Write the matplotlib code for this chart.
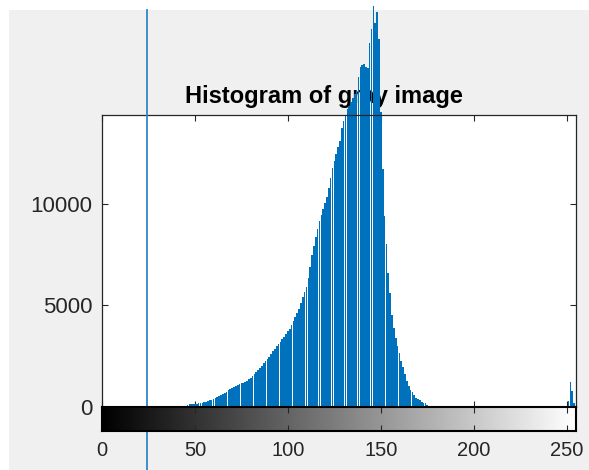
import matplotlib
matplotlib.use("Agg")
import matplotlib.pyplot as plt
import matplotlib.transforms as mtransforms
from matplotlib.patches import Rectangle
import numpy as np

plt.rcParams['font.family'] = ['Liberation Sans', 'DejaVu Sans']

# pixel counts per gray level
counts_000_043 = [0] * 44
counts_044_079 = [20, 60, 120, 130, 140, 150, 160, 170, 180, 190, 210, 230,
                  250, 280, 320, 360, 400, 440, 480, 520, 580, 640, 700, 760,
                  820, 880, 940, 1000, 1040, 1080, 1120, 1160, 1200, 1250, 1300, 1360]
counts_080_115 = [1430, 1520, 1610, 1710, 1810, 1920, 2030, 2140, 2250, 2360,
                  2470, 2600, 2730, 2860, 2990, 3100, 3200, 3330, 3460, 3590,
                  3720, 3850, 4030, 4230, 4430, 4630, 4830, 5100, 5400, 5650,
                  5900, 6350, 6900, 7450, 7900, 8350]
counts_116_151 = [8750, 9130, 9450, 9750, 10050, 10300, 10750, 11250, 11750, 12100,
                  12450, 12800, 13100, 13700, 14050, 14350, 14650, 14800, 15000, 15200,
                  15400, 15600, 16200, 16700, 16800, 16850, 16700, 16650, 17900, 18600,
                  19700, 18900, 19400, 18100, 14500, 11700]
counts_152_180 = [9400, 8000, 6600, 5600, 4500, 3900, 3400, 3000, 2650, 2250,
                  1950, 1600, 1300, 1050, 850, 720, 580, 460, 400, 330,
                  270, 220, 180, 120, 70, 40, 20, 10, 0]
counts_181_250 = [0] * 70
counts_251_255 = [300, 1250, 800, 200, 0]

counts = (counts_000_043 + counts_044_079 + counts_080_115 + counts_116_151
          + counts_152_180 + counts_181_250 + counts_251_255)
levels = np.arange(len(counts))

x_ticks = [0, 50, 100, 150, 200, 250]
y_ticks = [0, 5000, 10000]
marker_level = 24.3

W, H = 589, 470
fig = plt.figure(figsize=(W / 100, H / 100), dpi=100)
fig.patch.set_facecolor('white')
fig.add_artist(Rectangle((9 / W, 0), 1, 1 - 10 / H, transform=fig.transFigure,
                         facecolor='#f0f0f0', edgecolor='none', zorder=-10))

ax = fig.add_axes([102 / W, (H - 407) / H, 474 / W, 292 / H])
cax = fig.add_axes([102 / W, (H - 431) / H, 474 / W, 24 / H])

ax.bar(levels, counts, width=0.88, color='#0072BD', linewidth=0,
       antialiased=False, clip_on=False, zorder=4)
ax.set_xlim(0, 255)
ax.set_ylim(0, 14356)
ax.set_xticks(x_ticks)
ax.set_xticklabels([])
ax.set_yticks(y_ticks)
ax.tick_params(axis='both', direction='in', length=4, width=0.8, color='#262626',
               top=True, right=True, labelsize=16, labelcolor='#262626', pad=7)
for s in ax.spines.values():
    s.set_color('#262626')
    s.set_linewidth(0.9)
    s.set_zorder(5)

ax.text(0.469, 1.041, 'Histogram of gray image', transform=ax.transAxes,
        ha='center', va='baseline', fontsize=17, fontweight='bold',
        color='black', zorder=3, clip_on=False)

# gray level colour bar below the histogram
gradient = np.linspace(0, 1, 256).reshape(1, -1)
cax.imshow(gradient, cmap='gray', aspect='auto', extent=[0, 255, 0, 1])
cax.set_xlim(0, 255)
cax.set_yticks([])
cax.set_xticks(x_ticks)
cax.tick_params(axis='x', direction='in', length=4, width=0.8, color='#262626',
                top=True, labelsize=14.5, labelcolor='#262626', pad=7)
for s in cax.spines.values():
    s.set_color('black')
    s.set_linewidth(1.5)

# vertical marker line across the whole figure
trans = mtransforms.blended_transform_factory(ax.transData, fig.transFigure)
ax.plot([marker_level, marker_level], [0, 1 - 10 / H], transform=trans,
        color='#2f86c9', linewidth=1.3, clip_on=False, zorder=6)

fig.savefig('out.png', dpi=100, facecolor=fig.get_facecolor())
